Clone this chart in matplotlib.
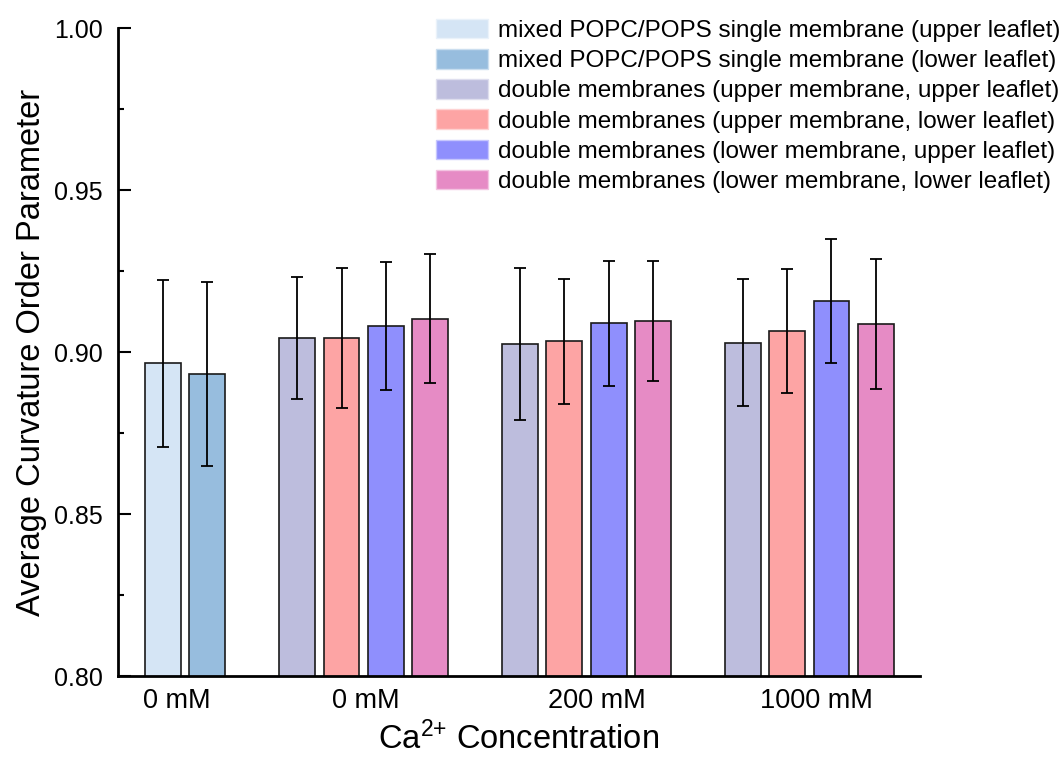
import numpy as np
import matplotlib
matplotlib.use("Agg")
import matplotlib.pyplot as plt
import matplotlib.colors as mcolors
from matplotlib.patches import Patch

plt.rcParams["font.family"] = ["Liberation Sans", "DejaVu Sans"]
plt.rcParams["mathtext.fontset"] = "custom"
plt.rcParams["mathtext.rm"] = "Liberation Sans"
plt.rcParams["mathtext.default"] = "regular"

# ---------------------------------------------------------------------------
# Data: average curvature order parameter (mean, std) per leaflet
# ---------------------------------------------------------------------------
group_labels = ["0 mM", "0 mM", "200 mM", "1000 mM"]

series_names = [
    "mixed POPC/POPS single membrane (upper leaflet)",
    "mixed POPC/POPS single membrane (lower leaflet)",
    "double membranes (upper membrane, upper leaflet)",
    "double membranes (upper membrane, lower leaflet)",
    "double membranes (lower membrane, upper leaflet)",
    "double membranes (lower membrane, lower leaflet)",
]
series_colors = ["#D5E5F5", "#97BDDE", "#BDBDDD", "#FDA4A4", "#8F8FFD", "#E68BC5"]

# single membrane (group 0)
single_mean = [0.8965, 0.8932]
single_err = [0.0258, 0.0284]

# double membranes: rows = Ca2+ concentration (0, 200, 1000 mM),
# cols = series 2..5
double_mean = [
    [0.9043, 0.9044, 0.9081, 0.9103],
    [0.9024, 0.9033, 0.9089, 0.9096],
    [0.9029, 0.9065, 0.9158, 0.9086],
]
double_err = [
    [0.0187, 0.0216, 0.0198, 0.0200],
    [0.0234, 0.0193, 0.0193, 0.0184],
    [0.0196, 0.0192, 0.0192, 0.0201],
]

# ---------------------------------------------------------------------------
# Layout of the bar groups (in bar-pitch units, 1 unit = 44.3 px)
# ---------------------------------------------------------------------------
PX = 44.3
BAR_W = 0.81
GROUP_GAP = 2.03
first_x = 1.016
label_x = np.array([59, 248, 479, 698]) / PX   # category label anchors

fig = plt.figure(figsize=(10.64, 7.58), dpi=100)
ax = fig.add_axes([118 / 1064, 82 / 758, 802 / 1064, 648 / 758])

err_kw = dict(ecolor="black", elinewidth=1.3, capsize=4.6, capthick=1.3)
bar_kw = dict(width=BAR_W, edgecolor="#1a1a1a", linewidth=1.2, zorder=2)

x = first_x
# group 0: single membrane
xs = x + np.arange(len(single_mean))
for i in range(len(single_mean)):
    ax.bar(xs[i], single_mean[i], yerr=single_err[i], color=series_colors[i],
           error_kw=err_kw, **bar_kw)
x = xs[-1] + GROUP_GAP

# groups 1..3: double membranes
for means, errs in zip(double_mean, double_err):
    xs = x + np.arange(len(means))
    for i in range(len(means)):
        ax.bar(xs[i], means[i], yerr=errs[i], color=series_colors[i + 2],
               error_kw=err_kw, **bar_kw)
    x = xs[-1] + GROUP_GAP

ax.set_xlim(0, 802 / PX)
ax.set_ylim(0.80, 1.00)

ax.set_xticks(label_x)
ax.set_xticklabels(group_labels, fontsize=19.5)
yt = np.arange(0.80, 1.001, 0.05)
ax.set_yticks(yt)
ax.set_yticks(np.arange(0.825, 1.0, 0.05), minor=True)
ax.set_yticklabels([f"{v:.2f}" for v in yt], fontsize=18)

ax.tick_params(axis="x", length=0, pad=9)
ax.tick_params(axis="y", which="major", direction="in", length=9, width=1.5, pad=11)
ax.tick_params(axis="y", which="minor", direction="in", length=4.5, width=1.5)

for side in ("top", "right"):
    ax.spines[side].set_visible(False)
for side in ("left", "bottom"):
    ax.spines[side].set_linewidth(2)

ax.set_xlabel("Ca$^{2{+}}$ Concentration", fontsize=23.5, labelpad=5)
ax.set_ylabel("Average Curvature Order Parameter", fontsize=23.5, labelpad=5)

# legend swatches without the dark bar outline
handles = []
for c in series_colors:
    rgb = np.array(mcolors.to_rgb(c))
    edge = 0.5 * rgb + 0.5
    handles.append(Patch(facecolor=c, edgecolor=edge, linewidth=1.0))
fig.legend(handles, series_names, loc="upper right",
           bbox_to_anchor=(1060 / 1064, 1 - 19 / 758),
           fontsize=17.5, frameon=False, handlelength=2.15, handleheight=0.85,
           handletextpad=0.4, labelspacing=0.29, borderpad=0, borderaxespad=0)

fig.savefig("out.png", dpi=100)
